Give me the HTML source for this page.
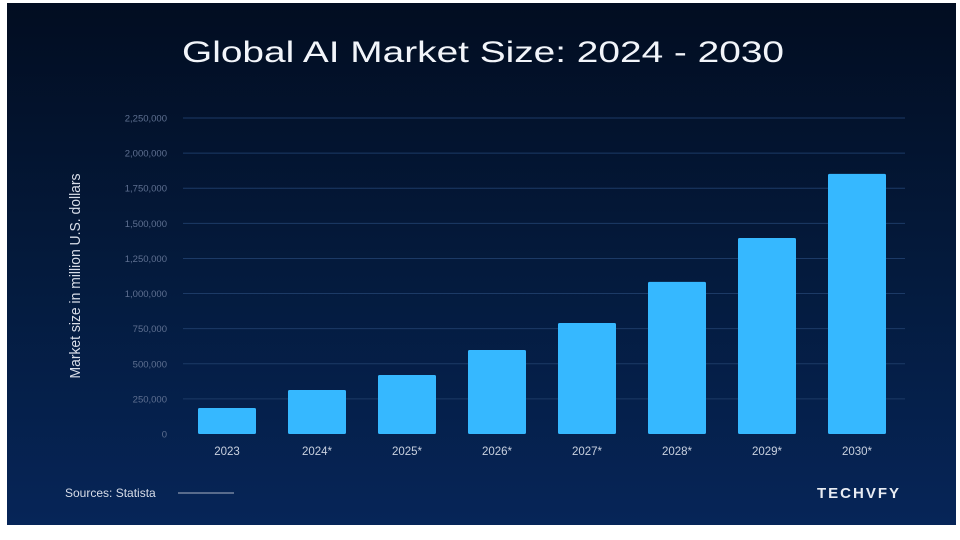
<!DOCTYPE html>
<html><head><meta charset="utf-8"><style>
html,body{margin:0;padding:0;background:#fff;width:960px;height:540px;overflow:hidden}
svg{display:block;font-family:"Liberation Sans",sans-serif}
</style></head><body>
<svg width="960" height="540" viewBox="0 0 960 540">
<defs>
<linearGradient id="bg" x1="0" y1="0" x2="0" y2="1">
<stop offset="0" stop-color="#020d21"/><stop offset="0.5" stop-color="#041a3c"/><stop offset="1" stop-color="#062558"/>
</linearGradient>
</defs>
<rect x="7" y="3" width="949" height="522" fill="url(#bg)"/>
<text x="483" y="62" text-anchor="middle" fill="#f2f5fa" font-size="30" textLength="602" lengthAdjust="spacingAndGlyphs">Global AI Market Size: 2024 - 2030</text>
<text transform="translate(80,276) rotate(-90)" text-anchor="middle" fill="#d8dde8" font-size="15" textLength="205" lengthAdjust="spacingAndGlyphs">Market size in million U.S. dollars</text>
<g id="grid"></g><g id="bars"></g><g id="xlabels"></g>
<text x="65" y="497" fill="#d8dde8" font-size="12">Sources: Statista</text>
<line x1="178" y1="493" x2="234" y2="493" stroke="#aab3c4" stroke-width="1"/>
<text x="901" y="498" text-anchor="end" fill="#e8ecf3" font-size="15" font-weight="bold" letter-spacing="2">TECHVFY</text>
</svg>
<script>
const categories=["2023","2024*","2025*","2026*","2027*","2028*","2029*","2030*"];
const values=[185000,313000,420000,598000,790000,1083000,1396000,1852000];
const ticks=[0,250000,500000,750000,1000000,1250000,1500000,1750000,2000000,2250000];
const tickLabels=["0","250,000","500,000","750,000","1,000,000","1,250,000","1,500,000","1,750,000","2,000,000","2,250,000"];
const NS="http://www.w3.org/2000/svg";
const y0=434,yMax=2250000,yTop=118;
function y(v){return y0-(v/yMax)*(y0-yTop);}
function x(i){return 227+i*90;}
const grid=document.getElementById('grid');
ticks.forEach((t,i)=>{
 if(i>0){const l=document.createElementNS(NS,'line');
 l.setAttribute('x1',183);l.setAttribute('x2',905);l.setAttribute('y1',y(t));l.setAttribute('y2',y(t));
 l.setAttribute('stroke','#1c3a66');l.setAttribute('stroke-width','1');
 
 
 grid.appendChild(l);}
 const tx=document.createElementNS(NS,'text');
 tx.setAttribute('x',167);tx.setAttribute('y',y(t)+3.5);tx.setAttribute('text-anchor','end');
 tx.setAttribute('fill','#5f7091');tx.setAttribute('font-size','9.5');tx.textContent=tickLabels[i];
 
 
 grid.appendChild(tx);
});
const bars=document.getElementById('bars'),xl=document.getElementById('xlabels');
values.forEach((v,i)=>{
 const r=document.createElementNS(NS,'rect');
 r.setAttribute('x',x(i)-29);r.setAttribute('width',58);r.setAttribute('y',y(v));r.setAttribute('height',y0-y(v));
 r.setAttribute('fill','#36b8ff');r.setAttribute('rx','1.5');
 
 
 bars.appendChild(r);
 const t=document.createElementNS(NS,'text');
 t.setAttribute('x',x(i));t.setAttribute('y',455);t.setAttribute('text-anchor','middle');
 t.setAttribute('fill','#c9d1df');t.setAttribute('font-size','11.5');t.textContent=categories[i];
 
 
 xl.appendChild(t);
});
</script>
</body></html>
